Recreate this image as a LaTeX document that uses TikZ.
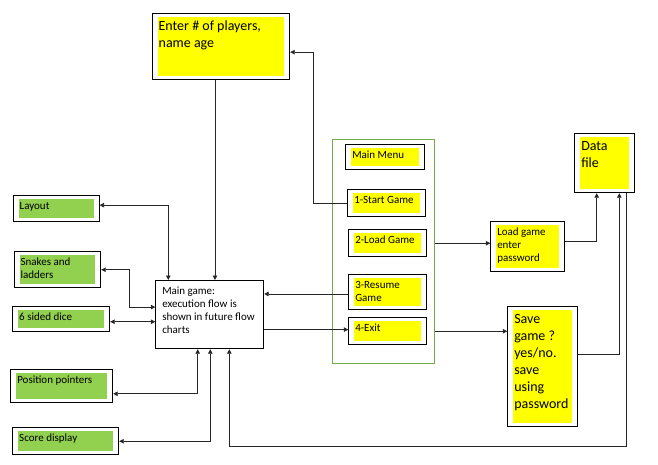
\documentclass[tikz,border=0pt]{standalone}
\usepackage{fontspec}
\setmainfont{Carlito}
\usetikzlibrary{arrows.meta}
\definecolor{padgreen}{RGB}{146,208,80}
\definecolor{padyellow}{RGB}{255,255,0}
\definecolor{menugreen}{RGB}{119,170,68}
\newcommand{\boxtext}[3]{\parbox[t][#2pt][t]{#1pt}{\raggedright\strut#3}}
\tikzset{
  panel/.style={draw, line width=0.9pt, fill=white, anchor=north west,
    inner xsep=6.5pt, inner ysep=5pt,
    path picture={\fill[#1] ([xshift=5.5pt,yshift=-3.5pt]path picture bounding box.north west)
      rectangle ([xshift=-5.5pt,yshift=3.5pt]path picture bounding box.south east);}},
  small/.style={font=\fontsize{11}{13}\selectfont},
  big/.style={font=\fontsize{14}{17}\selectfont},
  link/.style={line width=0.8pt, black!85},
}
\begin{document}
\begin{tikzpicture}[x=1pt, y=-1pt, >={Triangle[width=4.5pt,length=4.5pt]}]
  \useasboundingbox (0,0) rectangle (658,465);

  % left column
  \node[panel=padgreen, small] (layout) at (12.7,195.3) {\boxtext{73}{16}{Layout}};
  \node[panel=padgreen, small] (snakes) at (13.7,251.3) {\boxtext{73.6}{26}{Snakes and\\ladders}};
  \node[panel=padgreen, small] (dice) at (12.3,306.3) {\boxtext{84}{15}{6 sided dice}};
  \node[panel=padgreen, small] (pointers) at (10.3,368.7) {\boxtext{89}{23.3}{Position pointers}};
  \node[panel=padgreen, small] (score) at (12.3,427.3) {\boxtext{93}{17}{Score display}};

  \node[panel=padyellow, big] (enter) at (151.7,12.7) {\boxtext{124.6}{56.6}{Enter \# of players,\\name age}};
  \node[panel=white, small] (maingame) at (155.3,280) {\boxtext{95}{58.3}{Main game:\\execution flow is\\shown in future flow\\charts}};

  % menu
  \node[draw=menugreen, line width=0.9pt, anchor=north west, inner sep=0pt,
    minimum width=102pt, minimum height=224pt] (menu) at (332.3,139.3) {};
  \node[panel=padyellow, small] (mainmenu) at (345.3,144.3) {\boxtext{66}{15}{Main Menu}};
  \node[panel=padyellow, small] (start) at (347.3,189.3) {\boxtext{65}{17}{1-Start Game}};
  \node[panel=padyellow, small] (load) at (348.3,229.3) {\boxtext{65}{17}{2-Load Game}};
  \node[panel=padyellow, small] (resume) at (348.3,274.3) {\boxtext{65}{25}{3-Resume\\Game}};
  \node[panel=padyellow, small] (exit) at (348.3,317.3) {\boxtext{65}{17}{4-Exit}};

  % right column
  \node[panel=padyellow, small] (loadpw) at (490.3,221.3) {\boxtext{61}{40}{Load game\\enter\\password}};
  \node[panel=padyellow, big] (datafile) at (574.3,133.3) {\boxtext{47}{49}{Data\\file}};
  \node[panel=padyellow, big] (save) at (507.3,306.3) {\boxtext{57}{109.7}{Save\\game ?\\yes/no.\\save\\using\\password}};

  % connectors
  \draw[link, <->] ([yshift=3.6pt]layout.east) -| ([xshift=13pt]maingame.north west);
  \draw[link, ->] ([xshift=-6pt]enter.south) -- ([xshift=-6pt]enter.south |- maingame.north);
  \draw[link, ->] (start.west) -- ++(-34,0) |- ([yshift=-5.7pt]enter.east);
  \draw[link, <->] (snakes.east) -- ++(28,0) |- ([yshift=7.5pt]maingame.west);
  \draw[link, <->] ([yshift=-2.5pt]dice.east) -- ([yshift=-2.5pt]dice.east -| maingame.west);
  \draw[link, <->] ([xshift=42.4pt]maingame.south west) |- ([yshift=-8pt]pointers.east);
  \draw[link, <->] ([xshift=55pt]maingame.south west) |- (score.east);
  \draw[link, ->] ([xshift=51.7pt]datafile.south west) -- ++(0,252.7) -| ([xshift=74pt]maingame.south west);
  \draw[link, ->] ([yshift=-1.7pt]resume.west) -- ([yshift=-1.7pt]resume.west -| maingame.east);
  \draw[link, ->] ([yshift=-15pt]maingame.east) -- ([yshift=-15pt]maingame.east -| exit.west);
  \draw[link, ->] (load.east -| menu.east) -- (load.east -| loadpw.west);
  \draw[link, ->] ([yshift=5.6pt]loadpw.east) -| ([xshift=22.4pt]datafile.south west);
  \draw[link, ->] (exit.east -| menu.east) -- (exit.east -| save.west);
  \draw[link, ->] ([yshift=11.9pt]save.east) -| ([xshift=45pt]datafile.south west);
\end{tikzpicture}
\end{document}
